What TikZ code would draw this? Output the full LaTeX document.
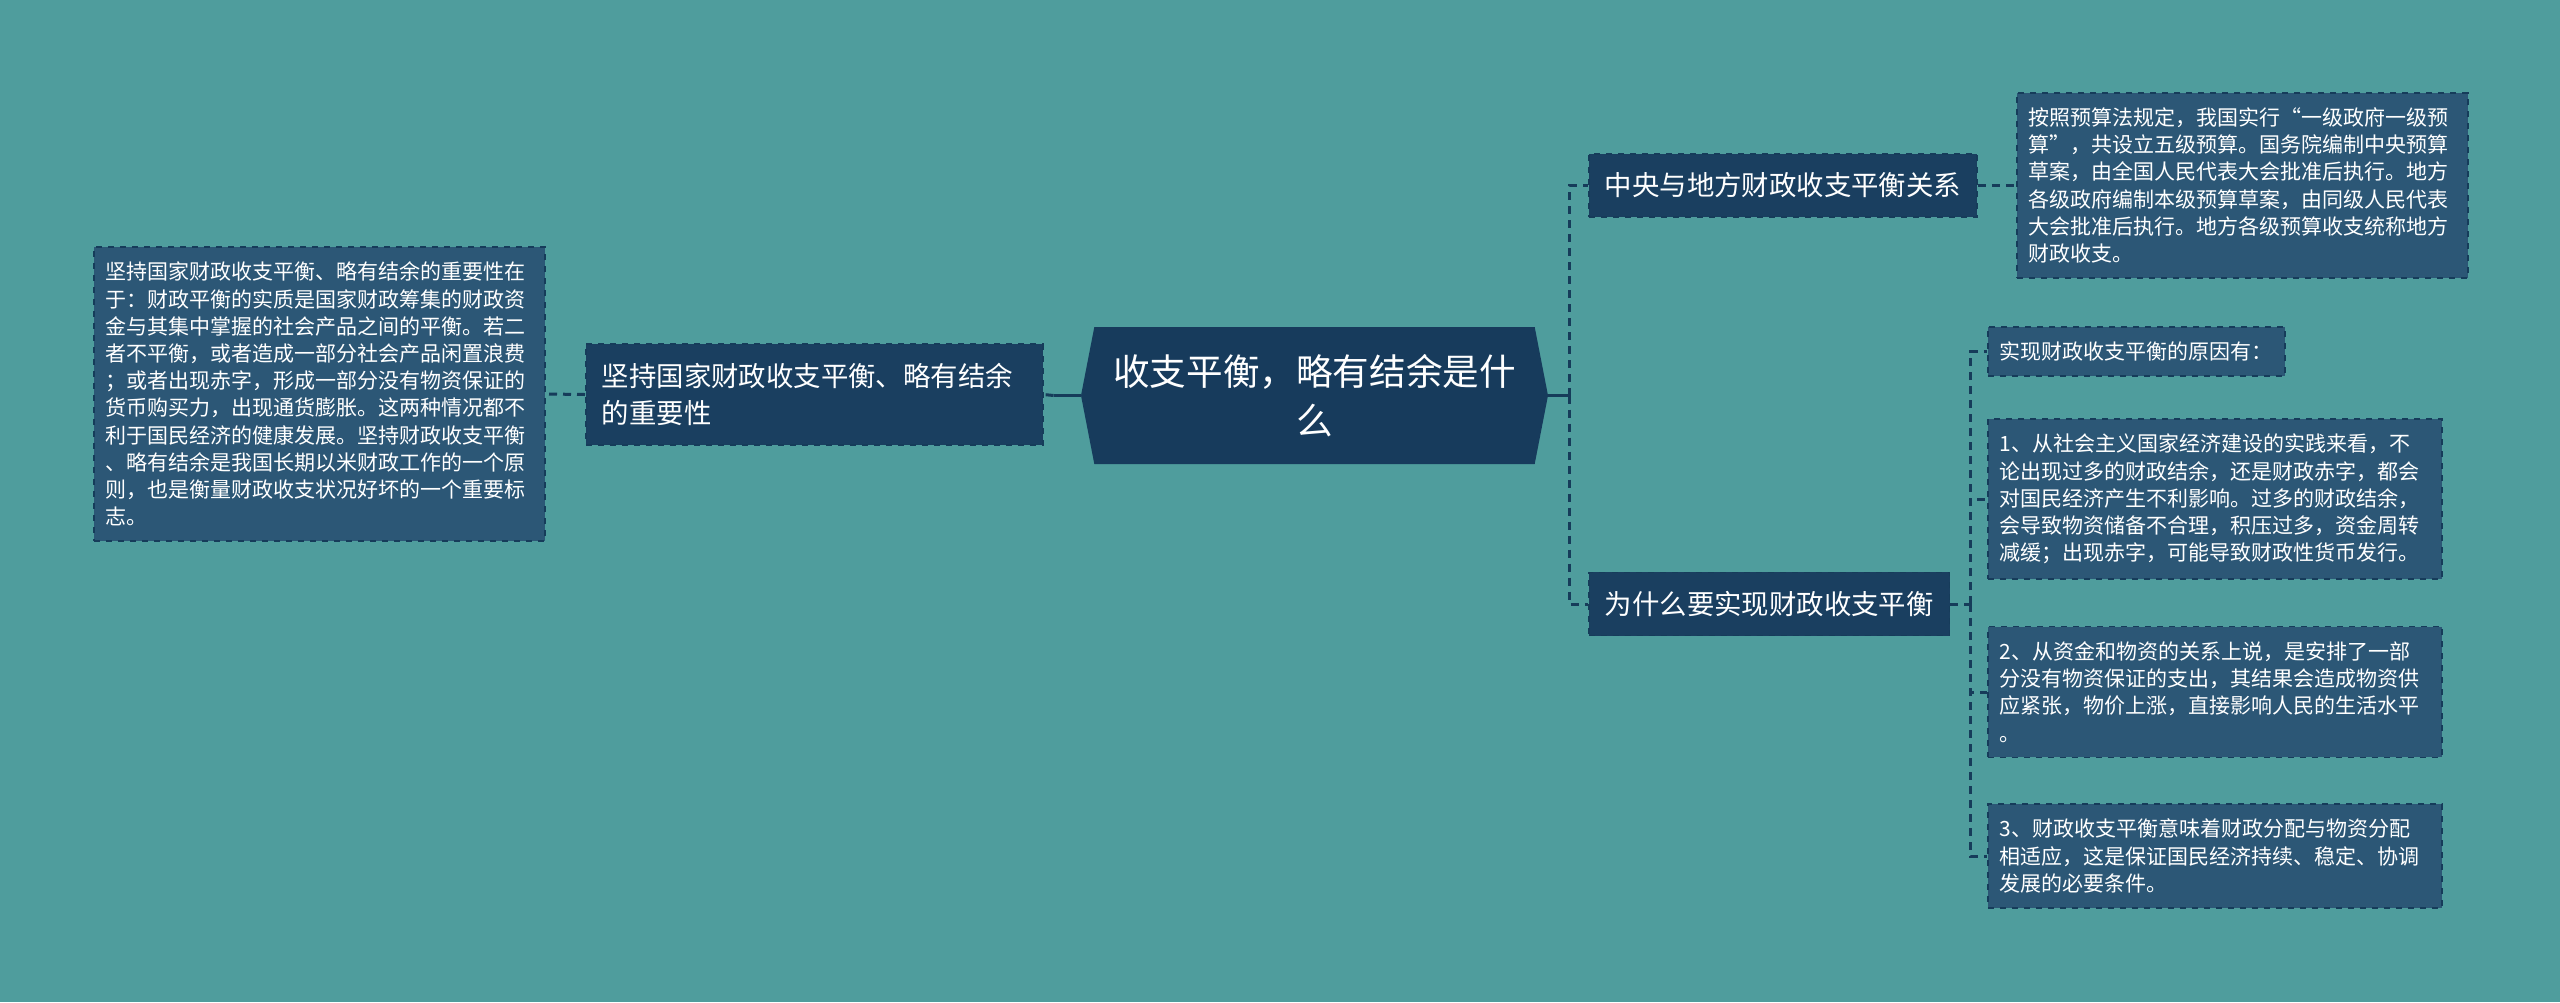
\documentclass[tikz,border=0pt]{standalone}
\usepackage{fontspec}
\setmainfont{Noto Sans CJK SC}
\usetikzlibrary{positioning, shapes.symbols}

\definecolor{bgteal}{RGB}{79,157,157}
\definecolor{rootblue}{RGB}{23,59,92}
\definecolor{branchblue}{RGB}{26,63,96}
\definecolor{leafblue}{RGB}{44,87,118}
\definecolor{linkblue}{RGB}{22,60,90}

\tikzset{
  rootbox/.style={signal, signal to=west and east, signal pointer angle=158,
    fill=rootblue, text=white, font=\fontsize{18.3}{24.5}\selectfont,
    align=center, text width=205pt, minimum width=233.5pt,
    minimum height=68.5pt, inner sep=0pt},
  branchbox/.style={draw=linkblue, dashed, line width=0.8pt, fill=branchblue,
    text=white, font=\fontsize{13.7}{18.8}\selectfont, align=left,
    inner xsep=8pt, inner ysep=9.4pt, anchor=west},
  leafbox/.style={draw=linkblue, dashed, line width=0.8pt, fill=leafblue,
    text=white, font=\fontsize{10.5}{13.6}\selectfont, align=left,
    inner xsep=6pt, inner ysep=7.5pt, anchor=west},
  link/.style={draw=linkblue, line width=1.5pt, dash pattern=on 4pt off 3pt},
  stem/.style={draw=linkblue, line width=1.5pt},
}

\begin{document}
\begin{tikzpicture}[x=0.5pt, y=-0.5pt]
  \useasboundingbox[fill=bgteal] (0,0) rectangle (2560,1002);

  \node[rootbox] (root) at (1314.5,395.5) {收支平衡，略有结余是什\\么};

  \node[branchbox, text width=212.5pt] (imp) at (585,394.5)
    {坚持国家财政收支平衡、略有结余\\的重要性};
  \node[leafbox, text width=213.5pt] (impnote) at (93,394)
    {坚持国家财政收支平衡、略有结余的重要性在\\
     于：财政平衡的实质是国家财政筹集的财政资\\
     金与其集中掌握的社会产品之间的平衡。若二\\
     者不平衡，或者造成一部分社会产品闲置浪费\\
     ；或者出现赤字，形成一部分没有物资保证的\\
     货币购买力，出现通货膨胀。这两种情况都不\\
     利于国民经济的健康发展。坚持财政收支平衡\\
     、略有结余是我国长期以米财政工作的一个原\\
     则，也是衡量财政收支状况好坏的一个重要标\\
     志。};

  \node[branchbox] (rel) at (1588,185.5) {中央与地方财政收支平衡关系};
  \node[branchbox] (why) at (1588,604) {为什么要实现财政收支平衡};

  \node[leafbox, text width=213.5pt] (relnote) at (2016,185.5)
    {按照预算法规定，我国实行“一级政府一级预\\
     算”，共设立五级预算。国务院编制中央预算\\
     草案，由全国人民代表大会批准后执行。地方\\
     各级政府编制本级预算草案，由同级人民代表\\
     大会批准后执行。地方各级预算收支统称地方\\
     财政收支。};
  \node[leafbox] (whyhead) at (1987,351.5) {实现财政收支平衡的原因有：};
  \node[leafbox, text width=215pt] (why1) at (1987,499)
    {1、从社会主义国家经济建设的实践来看，不\\
     论出现过多的财政结余，还是财政赤字，都会\\
     对国民经济产生不利影响。过多的财政结余，\\
     会导致物资储备不合理，积压过多，资金周转\\
     减缓；出现赤字，可能导致财政性货币发行。};
  \node[leafbox, text width=215pt] (why2) at (1987,692)
    {2、从资金和物资的关系上说，是安排了一部\\
     分没有物资保证的支出，其结果会造成物资供\\
     应紧张，物价上涨，直接影响人民的生活水平\\
     。};
  \node[leafbox, text width=215pt] (why3) at (1987,856)
    {3、财政收支平衡意味着财政分配与物资分配\\
     相适应，这是保证国民经济持续、稳定、协调\\
     发展的必要条件。};

  \draw[stem] (root.east) -- ++(21,0) coordinate (rj);
  \draw[link] (rj) |- (rel.west);
  \draw[link] (rj) |- (why.west);
  \draw[stem] (root.west) -- ++(-27,0) coordinate (lj);
  \draw[link] (lj) -- (imp.east);
  \draw[link] (imp.west) -- (impnote.east);
  \draw[link] (rel.east) -- (relnote.west);
  \draw[link] (why.east) -- ++(20,0) coordinate (wj);
  \foreach \n in {whyhead,why1,why2,why3}
    \draw[link] (wj) |- (\n.west);
\end{tikzpicture}
\end{document}
